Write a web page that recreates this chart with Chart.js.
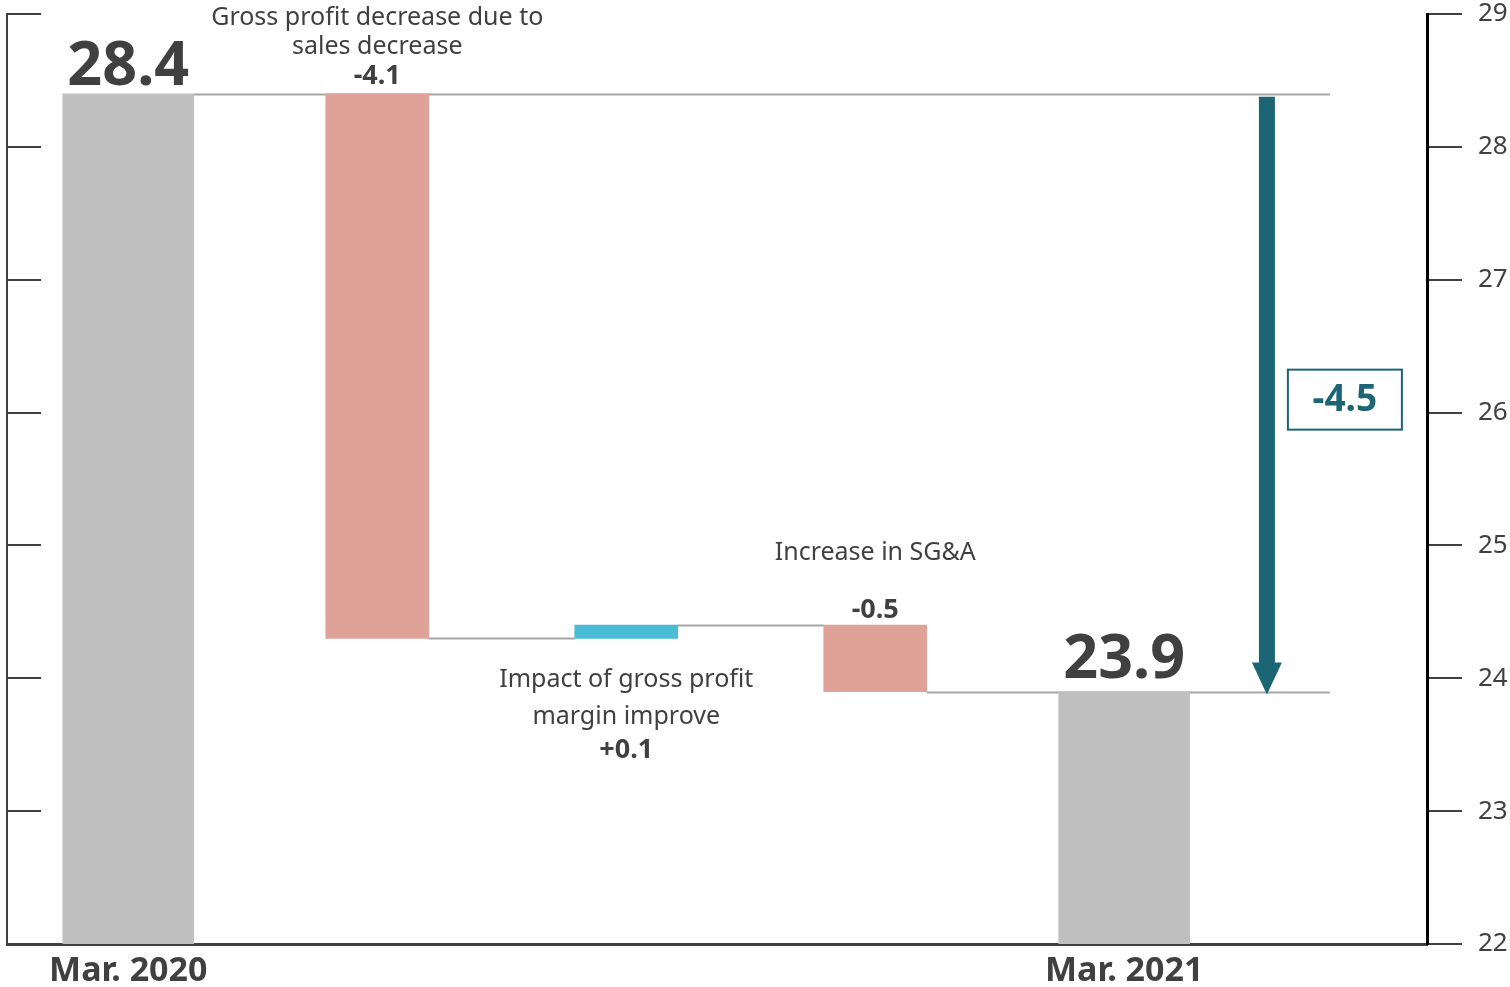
<!DOCTYPE html>
<html>
<head>
<meta charset="utf-8">
<script src="https://cdn.jsdelivr.net/npm/chart.js@4/dist/chart.umd.min.js"></script>
<style>
  html, body { margin: 0; padding: 0; background: #ffffff; }
  #wrap { width: 1510px; height: 987px; position: relative; }
</style>
</head>
<body>
<div id="wrap"><canvas id="chart" width="1510" height="987"></canvas></div>
<script>
// Gross profit bridge, Mar. 2020 -> Mar. 2021 (billion yen)
const periods = ['Mar. 2020', 'Mar. 2021'];
const startTotal = 28.4;
const endTotal = 23.9;
const stepNames = [
  ['Gross profit decrease due to', 'sales decrease'],
  ['Impact of gross profit', 'margin improve'],
  ['Increase in SG&A']
];
const stepValues = [-4.1, 0.1, -0.5];
const yTicks = [22, 23, 24, 25, 26, 27, 28, 29];

// running levels after each step
const levels = [startTotal];
stepValues.forEach(v => levels.push(Math.round((levels[levels.length - 1] + v) * 10) / 10));

const fmtSigned = v => (v > 0 ? '+' : '') + v.toFixed(1);

// colours and text styling
const FONT = "'Noto Sans', 'Open Sans', sans-serif";
const TEXT = '#404040';
const GREY = '#bfbfbf';
const DOWN = '#e0a199';
const UP = '#4bbcd6';
const TEAL = '#1b6575';
const GUIDE = '#a6a6a6';

// placement of the annotations (x in axis units, offsets in px)
const ARROW_X = 4.573;
const GUIDE_END_X = 4.826;
const noteLayout = [
  { edge: 'top', valueDy: -17, nameDy: [-76, -47] },
  { edge: 'bottom', valueDy: 112, nameDy: [41, 78] },
  { edge: 'top', valueDy: -15, nameDy: [-72] }
];
const totalLabelGap = [9, 14];

const totalsData = [
  { x: 0, y: [yTicks[0], startTotal] },
  { x: stepValues.length + 1, y: [yTicks[0], endTotal] }
];
const stepsData = stepValues.map((v, i) => ({ x: i + 1, y: [levels[i], levels[i + 1]] }));

const decor = {
  id: 'bridgeDecor',
  beforeDatasetsDraw(chart) {
    const ctx = chart.ctx;
    const xs = chart.scales.x, ys = chart.scales.y;
    const tot = chart.getDatasetMeta(0).data;
    const st = chart.getDatasetMeta(1).data;
    const seq = [tot[0], ...st, tot[1]];
    ctx.save();
    ctx.strokeStyle = GUIDE;
    ctx.lineWidth = 2;
    levels.forEach((lv, k) => {
      const a = seq[k], b = seq[k + 1];
      const x0 = a.x + a.width / 2;
      const x1 = (k === 0 || k === levels.length - 1) ? xs.getPixelForValue(GUIDE_END_X) : b.x - b.width / 2;
      const y = Math.round(ys.getPixelForValue(lv)) + 0.5;
      ctx.beginPath();
      ctx.moveTo(x0, y);
      ctx.lineTo(x1, y);
      ctx.stroke();
    });
    ctx.restore();
  },
  afterDatasetsDraw(chart) {
    const ctx = chart.ctx;
    const xs = chart.scales.x, ys = chart.scales.y;
    const area = chart.chartArea;
    ctx.save();

    // inward ticks of the left axis
    ctx.strokeStyle = TEXT;
    ctx.lineWidth = 2;
    yTicks.forEach(t => {
      const y = Math.round(ys.getPixelForValue(t));
      ctx.beginPath();
      ctx.moveTo(area.left, y);
      ctx.lineTo(area.left + 34, y);
      ctx.stroke();
    });

    // total labels
    const tot = chart.getDatasetMeta(0).data;
    [startTotal, endTotal].forEach((v, i) => {
      const el = tot[i];
      ctx.fillStyle = TEXT;
      ctx.font = `bold 61px ${FONT}`;
      ctx.textAlign = 'center';
      ctx.textBaseline = 'alphabetic';
      ctx.fillText(v.toFixed(1), el.x, el.y - totalLabelGap[i]);
    });

    // step labels
    const st = chart.getDatasetMeta(1).data;
    st.forEach((el, i) => {
      const lay = noteLayout[i];
      const top = Math.min(el.y, el.base), bottom = Math.max(el.y, el.base);
      const ref = lay.edge === 'top' ? top : bottom;
      ctx.fillStyle = TEXT;
      ctx.textAlign = 'center';
      ctx.textBaseline = 'middle';
      ctx.font = `25px ${FONT}`;
      stepNames[i].forEach((line, j) => ctx.fillText(line, el.x, ref + lay.nameDy[j]));
      ctx.font = `bold 27px ${FONT}`;
      ctx.fillText(fmtSigned(stepValues[i]), el.x, ref + lay.valueDy);
    });

    // net change arrow
    const ax = xs.getPixelForValue(ARROW_X);
    const y0 = ys.getPixelForValue(startTotal) + 3;
    const y1 = ys.getPixelForValue(endTotal) + 3;
    const shaft = 16, head = 30, headLen = 32;
    ctx.fillStyle = TEAL;
    ctx.beginPath();
    ctx.moveTo(ax - shaft / 2, y0);
    ctx.lineTo(ax + shaft / 2, y0);
    ctx.lineTo(ax + shaft / 2, y1 - headLen);
    ctx.lineTo(ax + head / 2, y1 - headLen);
    ctx.lineTo(ax, y1);
    ctx.lineTo(ax - head / 2, y1 - headLen);
    ctx.lineTo(ax - shaft / 2, y1 - headLen);
    ctx.closePath();
    ctx.fill();

    // net change box
    const bx = ax + 78, by = (y0 + y1) / 2 + 4;
    ctx.strokeStyle = TEAL;
    ctx.lineWidth = 2;
    ctx.fillStyle = '#ffffff';
    ctx.fillRect(bx - 57, by - 30, 114, 60);
    ctx.strokeRect(bx - 57, by - 30, 114, 60);
    ctx.fillStyle = TEAL;
    ctx.font = `bold 37px ${FONT}`;
    ctx.textAlign = 'center';
    ctx.textBaseline = 'middle';
    ctx.fillText(fmtSigned(Math.round((endTotal - startTotal) * 10) / 10), bx, by + 1);

    ctx.restore();
  }
};

const tickSet = scale => { scale.ticks = yTicks.map(v => ({ value: v })); };

new Chart(document.getElementById('chart'), {
  type: 'bar',
  data: {
    datasets: [
      {
        data: totalsData,
        backgroundColor: GREY,
        barThickness: 131,
        grouped: false,
        borderWidth: 0
      },
      {
        data: stepsData,
        backgroundColor: ctx => {
          const v = stepValues[ctx.dataIndex];
          return v < 0 ? DOWN : UP;
        },
        barThickness: 103,
        grouped: false,
        borderWidth: 0
      }
    ]
  },
  options: {
    responsive: false,
    devicePixelRatio: 1,
    animation: false,
    layout: { padding: 0 },
    plugins: { legend: { display: false }, tooltip: { enabled: false } },
    scales: {
      x: {
        type: 'linear',
        min: -0.487,
        max: 5.216,
        offset: false,
        z: 1,
        afterBuildTicks: s => { s.ticks = [{ value: 0 }, { value: stepValues.length + 1 }]; },
        afterFit: s => { s.height = 43; s.paddingLeft = 0; s.paddingRight = 0; },
        grid: { display: true, drawOnChartArea: false, drawTicks: false },
        border: { display: true, color: TEXT, width: 3 },
        ticks: {
          autoSkip: false,
          maxRotation: 0,
          padding: 7,
          color: TEXT,
          font: { family: FONT, size: 34, weight: 'bold' },
          callback: v => (v === 0 ? periods[0] : v === stepValues.length + 1 ? periods[1] : '')
        }
      },
      y: {
        position: 'right',
        min: 22,
        max: 29,
        afterBuildTicks: tickSet,
        afterFit: s => { s.width = 83; s.paddingTop = 14; s.paddingBottom = 0; },
        grid: { drawOnChartArea: false, drawTicks: true, tickLength: 35, color: TEXT, lineWidth: 2 },
        border: { display: true, color: '#000000', width: 3 },
        ticks: {
          padding: 16,
          color: TEXT,
          font: { family: FONT, size: 26 }
        }
      },
      yl: {
        position: 'left',
        min: 22,
        max: 29,
        afterBuildTicks: tickSet,
        afterFit: s => { s.width = 7; s.paddingTop = 14; s.paddingBottom = 0; },
        grid: { drawOnChartArea: false, drawTicks: false },
        border: { display: true, color: TEXT, width: 2 },
        ticks: { display: false }
      }
    }
  },
  plugins: [decor]
});
</script>
</body>
</html>
